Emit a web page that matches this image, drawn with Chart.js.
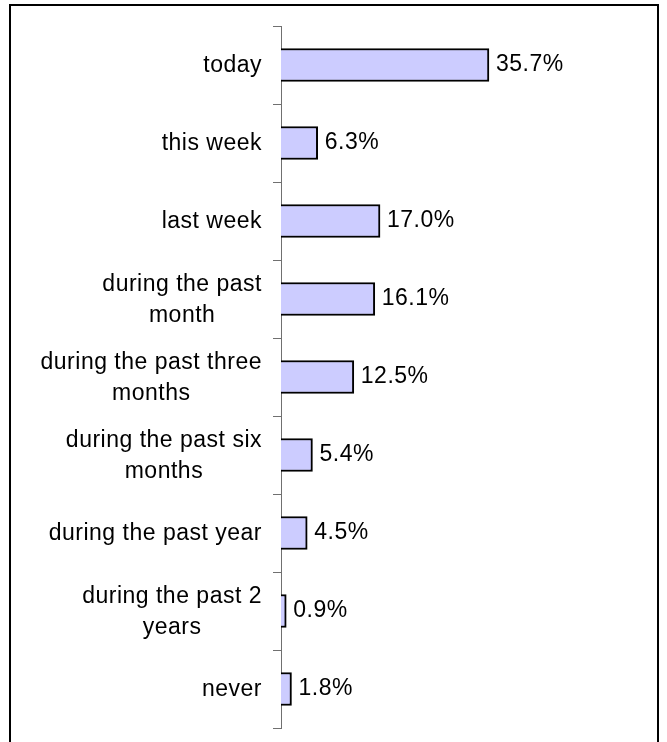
<!DOCTYPE html>
<html>
<head>
<meta charset="utf-8">
<title>Last time</title>
<script src="https://cdn.jsdelivr.net/npm/chart.js@4/dist/chart.umd.min.js"></script>
<style>
    html, body { margin: 0; padding: 0; background: #fff; overflow: hidden; }
    #wrap { position: relative; width: 667px; height: 742px; }
    #frame {
        position: absolute;
        left: 9px;
        top: 4px;
        width: 646px;
        height: 800px;
        border: 2px solid #000;
    }
    #chart { position: absolute; left: 0; top: 0; }
</style>
</head>
<body>
<div id="wrap">
    <div id="frame"></div>
    <canvas id="chart" width="667" height="742"></canvas>
</div>
<script>
const categories = [
    'today',
    'this week',
    'last week',
    ['during the past', 'month'],
    ['during the past three', 'months'],
    ['during the past six', 'months'],
    'during the past year',
    ['during the past 2', 'years'],
    'never'
];
const shares = [35.7, 6.3, 17.0, 16.1, 12.5, 5.4, 4.5, 0.9, 1.8];
const axisMax = 40;

const FONT = '23px "Liberation Sans", Arial, sans-serif';

// draws category names (each block right-aligned, lines centred) and value labels
const labelPlugin = {
    id: 'labelPlugin',
    afterDatasetsDraw: function (chart) {
        const ctx = chart.ctx;
        const yScale = chart.scales.y;
        const bars = chart.getDatasetMeta(0).data;
        const rightEdge = yScale.right - 19;
        const lineHeight = 31;

        ctx.save();
        ctx.font = FONT;
        ctx.fillStyle = '#000';
        ctx.textAlign = 'left';
        ctx.textBaseline = 'middle';
        ctx.letterSpacing = '0.5px';

        categories.forEach(function (label, i) {
            const lines = Array.isArray(label) ? label : [label];
            const widths = lines.map(function (line) { return ctx.measureText(line).width; });
            const blockWidth = Math.max.apply(null, widths);
            const centerX = rightEdge - blockWidth / 2;
            const centerY = yScale.getPixelForTick(i) + 1;
            const firstY = centerY - (lines.length - 1) * lineHeight / 2;

            lines.forEach(function (line, j) {
                ctx.fillText(line, centerX - widths[j] / 2, firstY + j * lineHeight);
            });
        });

        bars.forEach(function (bar, i) {
            ctx.fillText(shares[i].toFixed(1) + '%', bar.x + 7, bar.y);
        });
        ctx.restore();
    }
};

new Chart(document.getElementById('chart'), {
    type: 'bar',
    data: {
        labels: categories,
        datasets: [{
            data: shares,
            backgroundColor: '#ccccff',
            borderColor: '#000',
            borderWidth: 2,
            barThickness: 33
        }]
    },
    options: {
        indexAxis: 'y',
        responsive: false,
        animation: false,
        devicePixelRatio: 1,
        layout: {
            padding: { left: 0, top: 26, right: 153, bottom: 14 }
        },
        plugins: {
            legend: { display: false },
            tooltip: { enabled: false }
        },
        scales: {
            x: {
                display: false,
                min: 0,
                max: axisMax
            },
            y: {
                offset: true,
                ticks: { display: false },
                grid: {
                    offset: true,
                    drawOnChartArea: false,
                    drawTicks: true,
                    tickLength: 8,
                    color: '#707070',
                    lineWidth: 1
                },
                border: { display: true, color: '#707070', width: 1 },
                afterFit: function (scale) {
                    scale.width = 281;
                }
            }
        }
    },
    plugins: [labelPlugin]
});
</script>
</body>
</html>
